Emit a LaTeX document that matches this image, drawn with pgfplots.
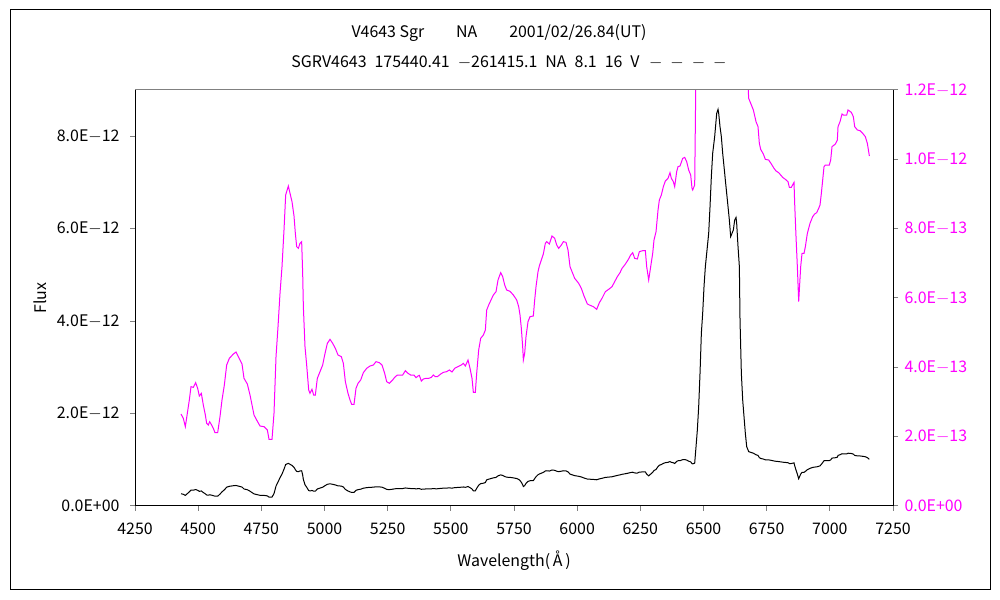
\documentclass[border=0pt]{standalone}
\usepackage{pgfplots}
\usepackage{pgfplotstable}
\pgfplotsset{compat=1.18}
\usepackage{fontspec}
\setmainfont{Noto Sans CJK JP}
\definecolor{mag}{RGB}{255,0,255}
\definecolor{topgray}{RGB}{128,128,128}
% flux in units of 1E-13
\pgfplotstableread{
x y
4432.1 2.653
4441.3 2.528
4449.2 2.288
4457.1 2.673
4465.0 3.057
4471.6 3.442
4480.9 3.423
4490.1 3.557
4498.0 3.394
4504.6 3.173
4512.5 3.250
4520.4 2.913
4528.4 2.625
4533.6 2.384
4540.2 2.336
4545.5 2.432
4553.4 2.336
4560.0 2.240
4566.6 2.115
4577.2 2.115
4586.4 2.577
4594.3 3.057
4603.6 3.490
4612.8 4.067
4623.4 4.259
4639.2 4.384
4649.7 4.442
4657.7 4.326
4673.5 4.096
4681.4 3.682
4694.6 3.519
4705.2 3.201
4713.1 2.913
4721.0 2.625
4731.5 2.480
4744.7 2.307
4760.6 2.288
4773.8 2.192
4780.4 1.922
4792.2 1.922
4800.1 2.673
4808.1 4.307
4816.0 5.173
4823.9 6.134
4831.8 6.903
4839.7 7.961
4846.3 8.971
4856.9 9.230
4863.5 9.019
4871.4 8.778
4879.3 8.365
4884.6 7.865
4889.9 7.481
4896.5 7.432
4903.0 7.577
4909.6 7.625
4913.6 6.711
4916.3 5.750
4922.8 4.596
4929.4 4.067
4937.4 3.346
4942.6 3.250
4950.5 3.365
4957.1 3.201
4963.7 3.201
4971.6 3.682
4982.2 3.875
4992.8 4.067
5000.7 4.355
5011.2 4.692
5021.8 4.807
5032.3 4.692
5042.9 4.548
5053.4 4.355
5066.6 4.307
5074.6 4.115
5082.5 3.586
5093.0 3.250
5101.0 3.057
5107.5 2.932
5116.8 2.932
5124.7 3.394
5132.6 3.538
5143.2 3.634
5153.7 3.846
5166.9 3.971
5180.1 4.038
5193.3 4.067
5203.8 4.163
5217.0 4.134
5227.6 4.067
5238.1 3.827
5246.1 3.586
5256.6 3.538
5269.8 3.634
5277.7 3.711
5288.3 3.778
5301.5 3.778
5309.4 3.778
5319.9 3.903
5330.5 3.827
5341.0 3.778
5354.2 3.778
5362.2 3.701
5370.1 3.750
5375.3 3.769
5383.3 3.605
5391.2 3.663
5401.7 3.682
5412.3 3.682
5422.8 3.711
5430.8 3.778
5438.7 3.730
5446.6 3.730
5459.8 3.807
5470.3 3.855
5483.5 3.875
5494.1 3.923
5504.6 3.865
5515.2 3.971
5528.4 4.019
5541.6 4.067
5549.5 4.115
5557.4 4.038
5568.0 4.211
5575.9 3.971
5583.8 3.682
5589.1 3.278
5597.0 3.278
5602.3 3.827
5610.2 4.499
5618.1 4.836
5628.7 4.932
5636.6 5.076
5641.9 5.653
5649.8 5.798
5657.7 5.923
5668.2 6.086
5678.8 6.182
5686.7 6.519
5697.3 6.730
5705.2 6.615
5713.1 6.375
5721.0 6.230
5734.2 6.192
5747.4 6.086
5760.6 5.942
5768.5 5.750
5773.8 5.509
5779.0 5.125
5784.3 4.596
5787.0 4.211
5792.2 4.403
5797.5 4.884
5805.4 5.317
5813.3 5.461
5826.5 5.480
5831.8 5.942
5837.1 6.326
5845.0 6.759
5850.3 6.923
5858.2 7.096
5866.1 7.269
5874.0 7.576
5879.3 7.625
5889.9 7.557
5900.4 7.788
5911.0 7.721
5918.9 7.529
5926.8 7.432
5937.4 7.529
5945.3 7.625
5955.8 7.605
5963.7 7.384
5971.7 6.903
5979.6 6.759
5990.1 6.567
6006.0 6.423
6016.5 6.278
6027.1 6.057
6040.3 5.827
6048.2 5.798
6064.0 5.750
6077.2 5.673
6087.8 5.865
6098.3 5.990
6111.5 6.182
6124.7 6.250
6137.9 6.326
6148.4 6.471
6159.0 6.615
6169.5 6.730
6177.5 6.855
6188.0 6.951
6201.2 7.096
6211.8 7.240
6219.7 7.307
6227.6 7.144
6238.2 7.125
6246.1 7.336
6259.3 7.365
6269.8 7.365
6275.1 6.903
6283.0 6.519
6290.9 6.903
6298.9 7.288
6304.1 7.673
6312.1 7.913
6320.0 8.538
6325.2 8.826
6333.1 8.971
6341.1 9.211
6349.0 9.375
6359.5 9.451
6367.4 9.615
6372.7 9.451
6380.6 9.355
6385.9 9.211
6393.8 9.644
6399.1 9.788
6407.0 9.807
6417.6 10.028
6425.5 10.057
6433.4 9.932
6441.3 9.692
6449.2 9.548
6454.5 9.163
6457.2 9.115
6465.1 9.259
6470.4 12.84
6475.6 16.44
6480.9 21.49
6486.2 28.70
6491.5 37.36
6496.7 41.68
6502.0 47.45
6507.3 51.78
6512.6 54.67
6520.5 58.99
6525.8 64.76
6531.0 71.25
6536.3 76.30
6544.2 79.91
6552.2 84.95
6557.4 85.82
6560.1 84.95
6565.3 82.07
6570.6 79.91
6575.9 76.30
6581.2 73.42
6586.4 70.53
6591.7 67.65
6597.0 64.76
6602.3 61.87
6607.5 58.27
6612.8 58.99
6618.1 59.71
6623.4 61.87
6628.7 62.45
6631.3 61.15
6636.6 56.11
6641.9 51.78
6644.5 40.24
6649.8 28.70
6655.1 22.93
6660.3 19.33
6665.6 15.72
6670.9 12.84
6676.2 12.12
6678.8 11.759
6689.4 11.567
6697.3 11.423
6707.8 11.086
6715.7 10.942
6721.0 10.461
6726.3 10.288
6736.8 10.153
6744.7 9.999
6757.9 9.980
6768.5 9.865
6779.0 9.740
6786.9 9.663
6797.5 9.615
6813.3 9.480
6823.9 9.423
6834.4 9.355
6839.7 9.192
6847.6 9.192
6858.2 9.336
6860.8 8.730
6866.1 7.769
6871.4 6.903
6876.7 5.894
6879.3 6.230
6884.6 6.903
6889.9 7.288
6897.8 7.288
6903.1 7.480
6911.0 7.865
6921.5 8.153
6932.1 8.346
6940.0 8.423
6947.9 8.461
6955.8 8.586
6961.1 8.682
6966.4 9.019
6971.7 9.403
6976.9 9.788
6982.2 9.836
6998.0 9.836
7003.3 9.980
7008.6 10.365
7013.9 10.394
7021.8 10.442
7029.7 10.557
7032.4 10.942
7040.3 11.086
7048.2 11.307
7053.5 11.278
7066.7 11.278
7071.9 11.423
7085.1 11.355
7093.0 11.230
7098.3 10.942
7108.9 10.846
7119.4 10.826
7130.0 10.749
7140.5 10.653
7148.4 10.461
7153.7 10.221
7156.4 10.096
}\spec
\begin{document}
\begin{tikzpicture}[x=1bp,y=1bp]
\useasboundingbox (0,0) rectangle (1000,600);
\fill[white] (0,0) rectangle (1000,600);
\draw[black,line width=1bp] (10,10) rectangle (990,590);
\pgfplotsset{
  every axis/.append style={
    at={(135bp,94bp)}, anchor=origin, scale only axis,
    width=758bp, height=416bp,
    xmin=4250, xmax=7250,
    tick align=outside, major tick length=5bp,
    tick style={line width=1bp},
    axis line style={line width=1bp},
    font=\fontsize{16}{19}\selectfont,
    /pgf/number format/assume math mode=true,
    /pgf/number format/1000 sep={},
  }
}
\begin{axis}[
  axis x line*=bottom, axis y line*=left,
  ymin=0, ymax=90,
  xtick={4250,4500,...,7250},
  xticklabel style={yshift=-8bp},
  ytick={0,20,40,60,80},
  yticklabels={0.0E+00,2.0E$-$12,4.0E$-$12,6.0E$-$12,8.0E$-$12},
  yticklabel style={xshift=-7bp},
  xlabel={Wavelength(\,Å\,)},
  xlabel style={yshift=-10bp},
  ylabel={Flux},
  ylabel style={yshift=3bp},
]
\addplot[black, line width=1bp] table[x=x,y=y]{\spec};
\end{axis}
\begin{axis}[
  axis x line=none, axis y line*=right,
  ymin=0, ymax=12,
  ytick={0,2,4,6,8,10,12},
  yticklabels={0.0E+00,2.0E$-$13,4.0E$-$13,6.0E$-$13,8.0E$-$13,1.0E$-$12,1.2E$-$12},
  yticklabel style={text=mag, xshift=3bp},
  clip=true,
]
\addplot[mag, line width=1bp] table[x=x,y=y]{\spec};
\draw[topgray, line width=1bp] (rel axis cs:0,1) -- (rel axis cs:1,1);
\end{axis}
\node[font=\fontsize{16}{19}\selectfont] at (499,567) {V4643 Sgr\hspace{2em}NA\hspace{2em}2001/02/26.84(UT)};
\node[font=\fontsize{16}{19}\selectfont] at (509,538) {SGRV4643\hspace{0.5em}175440.41\hspace{0.5em}$-$261415.1\hspace{0.5em}NA\hspace{0.5em}8.1\hspace{0.5em}16\hspace{0.5em}V\hspace{0.6em}$-$\hspace{0.5em}$-$\hspace{0.5em}$-$\hspace{0.5em}$-$};
\end{tikzpicture}
\end{document}
